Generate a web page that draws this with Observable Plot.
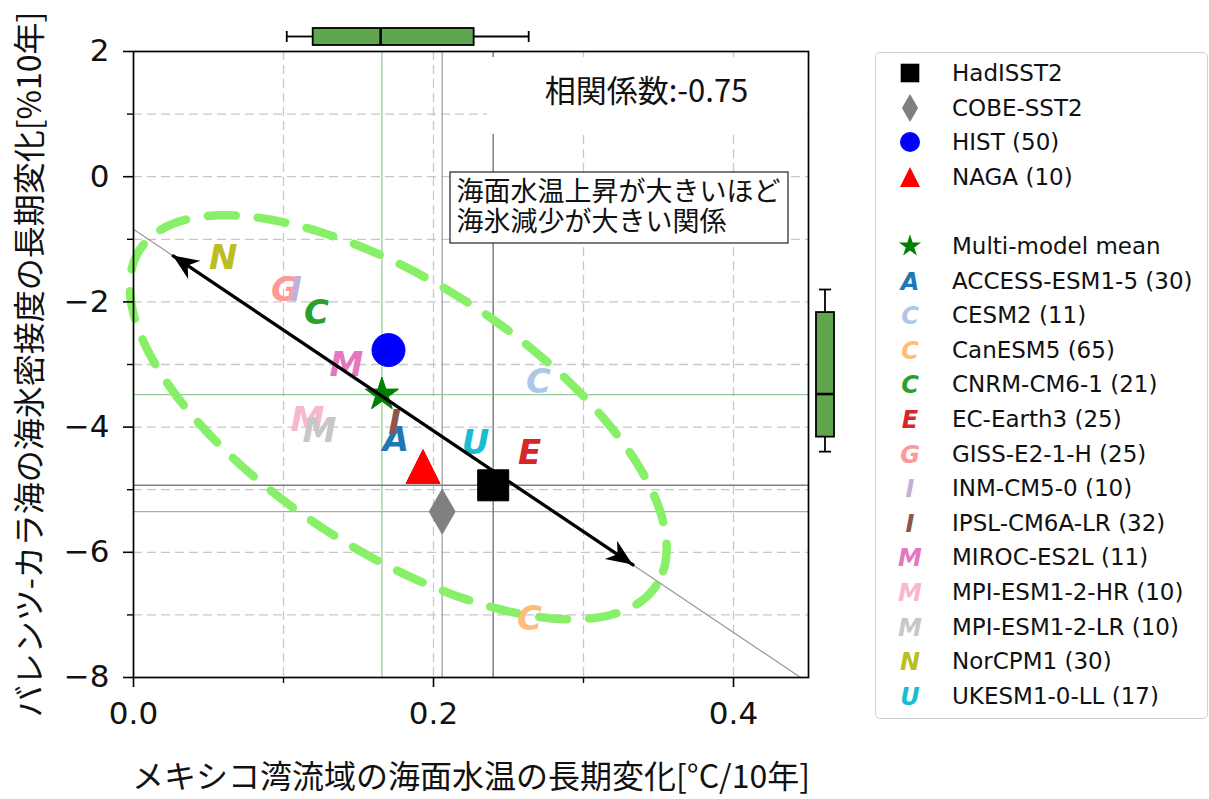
<!DOCTYPE html>
<html><head><meta charset="utf-8">
<script src="https://cdn.jsdelivr.net/npm/d3@7"></script>
<script src="https://cdn.jsdelivr.net/npm/@observablehq/plot@0.6"></script>
<style>
html,body{margin:0;padding:0;background:#fff;}
#wrap{position:relative;width:1209px;height:799px;overflow:hidden;background:#fff;}
#legend{position:absolute;left:875px;top:52px;width:333px;height:667px;box-sizing:border-box;border:1.3px solid #cfcfcf;border-radius:5px;background:#fff;font-family:"DejaVu Sans",sans-serif;font-size:23px;color:#111;}
.lrow{position:absolute;left:0;width:100%;height:34px;}
.lmk{position:absolute;left:14px;top:0;width:40px;height:34px;overflow:visible;}
.ltx{position:absolute;left:76px;top:0;line-height:34px;white-space:nowrap;}
</style></head><body><div id="wrap"></div>
<script>
// ---------------- data ----------------
const obsNames = ["HadISST2", "COBE-SST2", "HIST (50)", "NAGA (10)"];
const obsSST = [0.2398, 0.2058, 0.170, 0.193];
const obsSIC = [-4.93, -5.35, -2.77, -4.63];
const obsSymbols = ["square", "diamond", "circle", "triangle"];
const obsColors = ["black", "gray", "blue", "red"];

const meanName = "Multi-model mean";
const meanSST = 0.1656;
const meanSIC = -3.48;

const modelNames = ["ACCESS-ESM1-5 (30)", "CESM2 (11)", "CanESM5 (65)", "CNRM-CM6-1 (21)", "EC-Earth3 (25)", "GISS-E2-1-H (25)", "INM-CM5-0 (10)", "IPSL-CM6A-LR (32)", "MIROC-ES2L (11)", "MPI-ESM1-2-HR (10)", "MPI-ESM1-2-LR (10)", "NorCPM1 (30)", "UKESM1-0-LL (17)"];
const modelLetters = ["A", "C", "C", "C", "E", "G", "I", "I", "M", "M", "M", "N", "U"];
const modelColors = ["#1f77b4", "#aec7e8", "#ffbb78", "#2ca02c", "#d62728", "#ff9896", "#c5b0d5", "#8c564b", "#e377c2", "#f7b6d2", "#c7c7c7", "#bcbd22", "#17becf"];
const modelSST = [0.175, 0.270, 0.264, 0.122, 0.264, 0.101, 0.108, 0.174, 0.142, 0.116, 0.124, 0.0598, 0.228];
const modelSIC = [-4.21, -3.28, -7.06, -2.18, -4.42, -1.81, -1.81, -3.94, -3.01, -3.89, -4.07, -1.30, -4.26];

// box-plot summaries: [lower whisker, Q1, median, Q3, upper whisker]
const sstBoxStats = [0.1025, 0.1198, 0.1651, 0.2271, 0.2638];
const sicBoxStats = [-4.40, -4.16, -3.48, -2.17, -1.81];

// regression line and ellipse parameters
const regIntercept = -0.84;
const regSlope = -16.1;
const regXRange = [0, 0.4447];
const arrowXEnds = [0.0265, 0.333];
const ellipseCenter = [0.1765, -3.843];
const ellipseAxis1 = [0.1722, -2.681];
const ellipseAxis2 = [-0.0487, -1.797];

const xTicksMajor = [0, 0.2, 0.4];
const xTicksMinor = [0.1, 0.3];
const yTicksMajor = [2, 0, -2, -4, -6, -8];
const yTicksMinor = [1, -1, -3, -5, -7];
const xGridValues = [0.1, 0.2, 0.3, 0.4];
const yGridValues = [1, 0, -1, -2, -3, -4, -5, -6, -7];

const corrLabel = "相関係数:-0.75";
const noteLabel = "海面水温上昇が大きいほど\n海氷減少が大きい関係";
const xLabel = "メキシコ湾流域の海面水温の長期変化[°C/10年]";
const yLabel = "バレンツ-カラ海の海氷密接度の長期変化[%10年]";

// ---------------- derived tables ----------------
const models = modelNames.map((name, i) => ({name, letter: modelLetters[i], color: modelColors[i], sst: modelSST[i], sic: modelSIC[i]}));
const obs = obsNames.map((name, i) => ({name, sst: obsSST[i], sic: obsSIC[i], symbol: obsSymbols[i], color: obsColors[i]}));
const regLine = regXRange.map(x => ({x, y: regIntercept + regSlope * x}));
const arrowLine = arrowXEnds.map(x => ({x, y: regIntercept + regSlope * x}));
const ellipse = d3.range(0, 361, 2).map(deg => {
  const t = deg * Math.PI / 180;
  return {
    x: ellipseCenter[0] + ellipseAxis1[0] * Math.cos(t) + ellipseAxis2[0] * Math.sin(t),
    y: ellipseCenter[1] + ellipseAxis1[1] * Math.cos(t) + ellipseAxis2[1] * Math.sin(t)
  };
});

const JP = "'Noto Sans CJK JP', 'Noto Sans', sans-serif";
const boxFill = "#5fa64f";

const triangleUp = {
  draw(context, size) {
    const r = Math.sqrt(size / Math.PI);
    context.moveTo(0, -r);
    context.lineTo(r, r);
    context.lineTo(-r, r);
    context.closePath();
  }
};
const markerR = {square: 17.5, diamond: 13.6, circle: 16.5, triangle: 17, star: 10.5};

// ---------------- custom render marks ----------------
function topBoxplot(index, scales, values, d) {
  const [lo, q1, md, q3, hi] = sstBoxStats.map(v => scales.x(v));
  const cy = d.marginTop - 14.5, hh = 8.5, cap = 5.5;
  const g = d3.create("svg:g").attr("stroke", "black").attr("stroke-width", 1.8);
  g.append("line").attr("x1", lo).attr("x2", q1).attr("y1", cy).attr("y2", cy);
  g.append("line").attr("x1", q3).attr("x2", hi).attr("y1", cy).attr("y2", cy);
  g.append("line").attr("x1", lo).attr("x2", lo).attr("y1", cy - cap).attr("y2", cy + cap);
  g.append("line").attr("x1", hi).attr("x2", hi).attr("y1", cy - cap).attr("y2", cy + cap);
  g.append("rect").attr("x", q1).attr("y", cy - hh).attr("width", q3 - q1).attr("height", 2 * hh).attr("fill", boxFill);
  g.append("line").attr("x1", md).attr("x2", md).attr("y1", cy - hh).attr("y2", cy + hh).attr("stroke-width", 2.6);
  return g.node();
}
function rightBoxplot(index, scales, values, d) {
  const [lo, q1, md, q3, hi] = sicBoxStats.map(v => scales.y(v));
  const cx = d.width - d.marginRight + 17, hw = 9, cap = 6;
  const g = d3.create("svg:g").attr("stroke", "black").attr("stroke-width", 1.8);
  g.append("line").attr("y1", lo).attr("y2", q1).attr("x1", cx).attr("x2", cx);
  g.append("line").attr("y1", q3).attr("y2", hi).attr("x1", cx).attr("x2", cx);
  g.append("line").attr("y1", lo).attr("y2", lo).attr("x1", cx - cap).attr("x2", cx + cap);
  g.append("line").attr("y1", hi).attr("y2", hi).attr("x1", cx - cap).attr("x2", cx + cap);
  g.append("rect").attr("x", cx - hw).attr("y", q3).attr("width", 2 * hw).attr("height", q1 - q3).attr("fill", boxFill);
  g.append("line").attr("y1", md).attr("y2", md).attr("x1", cx - hw).attr("x2", cx + hw).attr("stroke-width", 2.6);
  return g.node();
}
function arrowHeads(index, scales) {
  const g = d3.create("svg:g").attr("fill", "black");
  const pts = arrowLine.map(p => [scales.x(p.x), scales.y(p.y)]);
  for (const [tip, from] of [[pts[0], pts[1]], [pts[1], pts[0]]]) {
    const dx = tip[0] - from[0], dy = tip[1] - from[1], L = Math.hypot(dx, dy);
    const ux = dx / L, uy = dy / L, nx = -uy, ny = ux;
    const hl = 26, hw = 11, notch = 18;
    const bx = tip[0] - ux * hl, by = tip[1] - uy * hl;
    const p = [[tip[0], tip[1]], [bx + nx * hw, by + ny * hw], [tip[0] - ux * notch, tip[1] - uy * notch], [bx - nx * hw, by - ny * hw]];
    g.append("path").attr("d", "M" + p.map(q => q.join(",")).join("L") + "Z");
  }
  return g.node();
}
function corrBox(index, scales, values, d) {
  const right = d.width - d.marginRight;
  return d3.create("svg:rect").attr("x", right - 321).attr("y", d.marginTop + 6)
    .attr("width", 320).attr("height", 77).attr("fill", "white").node();
}
function noteBox(index, scales, values, d) {
  return d3.create("svg:rect").attr("x", d.marginLeft + 317).attr("y", d.marginTop + 121)
    .attr("width", 338).attr("height", 71).attr("fill", "white").attr("stroke", "#333").attr("stroke-width", 1.3).node();
}

// ---------------- plot ----------------
const marks = [
  Plot.gridX(xGridValues, {stroke: "#c8c8c8", strokeOpacity: 1, strokeWidth: 1.3, strokeDasharray: "9,5"}),
  Plot.gridY(yGridValues, {stroke: "#c8c8c8", strokeOpacity: 1, strokeWidth: 1.3, strokeDasharray: "9,5"}),
  Plot.ruleX([meanSST], {stroke: "green", strokeOpacity: 0.4, strokeWidth: 1.3}),
  Plot.ruleY([meanSIC], {stroke: "green", strokeOpacity: 0.4, strokeWidth: 1.3}),
  Plot.ruleX([obs[1].sst], {stroke: "#aaaaaa", strokeWidth: 1.4}),
  Plot.ruleY([obs[1].sic], {stroke: "#aaaaaa", strokeWidth: 1.4}),
  Plot.ruleX([obs[0].sst], {stroke: "#808080", strokeWidth: 1.5}),
  Plot.ruleY([obs[0].sic], {stroke: "#808080", strokeWidth: 1.5}),
  corrBox,
  Plot.text([corrLabel], {text: d => d, frameAnchor: "top-left", dx: 513, dy: 41, textAnchor: "middle", lineAnchor: "middle", fontSize: 31, fontFamily: JP, fill: "#111"}),
  noteBox,
  Plot.text([noteLabel], {text: d => d, frameAnchor: "top-left", dx: 323, dy: 155, textAnchor: "start", lineAnchor: "middle", lineHeight: 1.12, fontSize: 27, fontFamily: JP, fill: "#111"}),
  Plot.line(ellipse, {x: "x", y: "y", stroke: "#88f068", strokeWidth: 8.5, strokeDasharray: "28,22", curve: "linear"}),
  Plot.line(regLine, {x: "x", y: "y", stroke: "#999", strokeWidth: 1.2}),
  Plot.text(models, {x: "sst", y: "sic", text: "letter", fill: "color", fontSize: 34, fontWeight: "bold", fontStyle: "italic", fontFamily: "DejaVu Sans", textAnchor: "middle", lineAnchor: "middle"}),
  ...obs.map(o => Plot.dot([o], {x: "sst", y: "sic", symbol: o.symbol === "triangle" ? triangleUp : o.symbol, r: markerR[o.symbol], fill: o.color, stroke: o.color, strokeWidth: 1})),
  Plot.dot([{sst: meanSST, sic: meanSIC}], {x: "sst", y: "sic", symbol: "star", r: markerR.star, fill: "green", stroke: "green", strokeWidth: 1}),
  Plot.line(arrowLine, {x: "x", y: "y", stroke: "black", strokeWidth: 3.3}),
  arrowHeads,
  Plot.frame({stroke: "black", strokeWidth: 1.7}),
  Plot.axisX({ticks: xTicksMajor, tickFormat: d3.format(".1f"), tickSize: 10, tickPadding: 14, fontSize: 31, fontFamily: "DejaVu Sans", label: null, strokeWidth: 1.6, fill: "#111"}),
  Plot.axisX({ticks: xTicksMinor, tickFormat: () => "", tickSize: 6, label: null, strokeWidth: 1.4}),
  Plot.axisY({ticks: yTicksMajor, tickFormat: d3.format("d"), tickSize: 10, tickPadding: 14, fontSize: 31, fontFamily: "DejaVu Sans", label: null, strokeWidth: 1.6, fill: "#111"}),
  Plot.axisY({ticks: yTicksMinor, tickFormat: () => "", tickSize: 6, label: null, strokeWidth: 1.4}),
  Plot.text([xLabel], {text: d => d, frameAnchor: "bottom", dy: 100, lineAnchor: "middle", fontSize: 32, fontFamily: JP, fill: "#111"}),
  Plot.text([yLabel], {text: d => d, frameAnchor: "left", dx: -103, rotate: -90, lineAnchor: "middle", textAnchor: "middle", fontSize: 32, fontFamily: JP, fill: "#111"}),
  topBoxplot,
  rightBoxplot
];

const chart = Plot.plot({
  width: 1209,
  height: 799,
  marginLeft: 133,
  marginRight: 401,
  marginTop: 51,
  marginBottom: 122,
  x: {domain: [0, 0.45]},
  y: {domain: [-8, 2]},
  style: {fontFamily: "DejaVu Sans", background: "white", overflow: "visible"},
  marks
});
const wrap = document.getElementById("wrap");
wrap.appendChild(chart);

// ---------------- legend ----------------
const legendItems = [
  ...obs.map(o => ({label: o.name, kind: "symbol", symbol: o.symbol, color: o.color})),
  null,
  {label: meanName, kind: "symbol", symbol: "star", color: "green"},
  ...models.map(m => ({label: m.name, kind: "letter", letter: m.letter, color: m.color}))
];
const legend = document.createElement("div");
legend.id = "legend";
wrap.appendChild(legend);
const symbolTypes = {square: d3.symbolSquare, diamond: d3.symbolDiamond, circle: d3.symbolCircle, star: d3.symbolStar};
const legendR = {square: 10.5, diamond: 8.5, circle: 10, triangle: 10, star: 7};
legendItems.forEach((item, k) => {
  if (!item) return;
  const row = document.createElement("div");
  row.className = "lrow";
  row.style.top = (73 + 34.6 * k - 52 - 17 - 1) + "px";
  const svg = d3.create("svg").attr("class", "lmk").attr("width", 40).attr("height", 34);
  const g = svg.append("g").attr("transform", "translate(20,17)");
  if (item.kind === "letter") {
    g.append("text").text(item.letter).attr("text-anchor", "middle").attr("dy", "0.36em")
      .attr("font-family", "DejaVu Sans").attr("font-weight", "bold").attr("font-style", "italic")
      .attr("font-size", 24).attr("fill", item.color);
  } else if (item.symbol === "triangle") {
    const r = legendR.triangle;
    g.append("path").attr("d", `M0,${-r}L${r},${r}L${-r},${r}Z`).attr("fill", item.color);
  } else {
    const r = legendR[item.symbol];
    g.append("path").attr("d", d3.symbol(symbolTypes[item.symbol], Math.PI * r * r)()).attr("fill", item.color);
  }
  row.appendChild(svg.node());
  const tx = document.createElement("div");
  tx.className = "ltx";
  tx.textContent = item.label;
  row.appendChild(tx);
  legend.appendChild(row);
});
</script></body></html>
